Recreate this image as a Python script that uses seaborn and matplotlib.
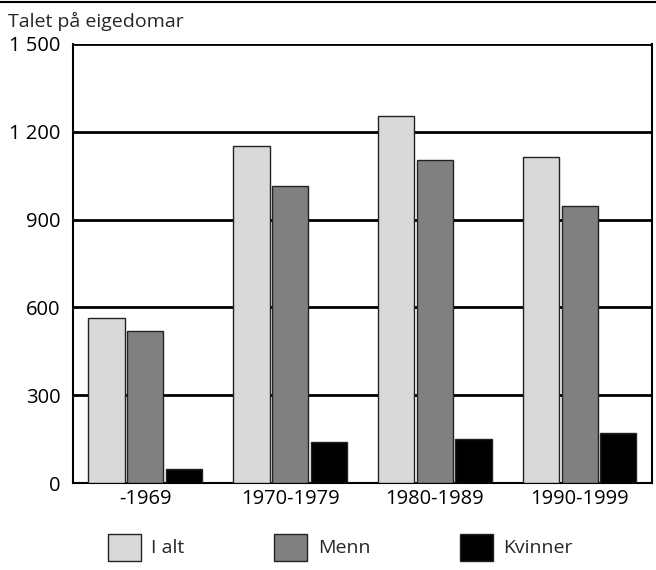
import matplotlib
matplotlib.use("Agg")
import matplotlib.pyplot as plt
import matplotlib.ticker as mticker
from matplotlib.lines import Line2D
import pandas as pd
import seaborn as sns

# Data lese av frå figuren
periods = ["-1969", "1970-1979", "1980-1989", "1990-1999"]
series = ["I alt", "Menn", "Kvinner"]
i_alt = [563, 1150, 1253, 1115]
menn = [518, 1013, 1103, 947]
kvinner = [47, 141, 152, 170]
colors = ["#d9d9d9", "#808080", "#000000"]

df = pd.DataFrame({
    "periode": periods * 3,
    "gruppe": ["I alt"] * 4 + ["Menn"] * 4 + ["Kvinner"] * 4,
    "tal": i_alt + menn + kvinner,
})

FS = 14
TICK_FS = 14.5

sns.set_theme(style="white")
plt.rcParams["font.family"] = ["Open Sans", "DejaVu Sans"]

fig = plt.figure(figsize=(6.56, 5.70), dpi=100)
ax = fig.add_axes([0.111, 0.1526, 0.883, 0.7704])

sns.barplot(data=df, x="periode", y="tal", hue="gruppe", order=periods,
            hue_order=series, palette=colors, width=0.8, gap=0.06,
            edgecolor="#222222", linewidth=1.0, ax=ax, zorder=3)

ax.set_ylim(0, 1500)
ax.set_yticks([0, 300, 600, 900, 1200, 1500])
ax.yaxis.set_major_formatter(mticker.FuncFormatter(
    lambda v, p: f"{int(v):,}".replace(",", " ")))
ax.grid(axis="y", color="black", linewidth=2, zorder=0)
ax.set_axisbelow(True)
ax.tick_params(axis="both", length=0, labelsize=TICK_FS, colors="black")
ax.tick_params(axis="y", pad=9)
ax.tick_params(axis="x", pad=4)
ax.set_xlabel("")
ax.set_ylabel("")
for side in ["left", "bottom", "right"]:
    ax.spines[side].set_visible(True)
    ax.spines[side].set_color("black")
    ax.spines[side].set_linewidth(1.5)
ax.spines["top"].set_visible(False)

# Forklaring under
handles, labels = ax.get_legend_handles_labels()
ax.legend(handles, labels, loc="center left", bbox_to_anchor=(0.03, -0.146),
          ncol=3, frameon=False, fontsize=FS, handlelength=1.7,
          handleheight=1.75, handletextpad=0.55, columnspacing=4.6)

fig.text(0.012, 0.963, "Talet på eigedomar", fontsize=FS, va="center")
fig.add_artist(Line2D([0, 1], [0.996, 0.996], color="black", linewidth=1.5,
                      transform=fig.transFigure))

fig.savefig("out.png", dpi=100)
